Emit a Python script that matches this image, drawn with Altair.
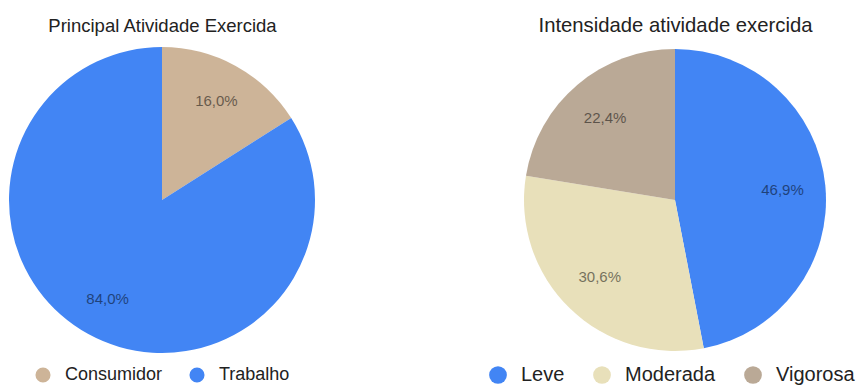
import altair as alt
import pandas as pd

# ---- data ----
left_title = "Principal Atividade Exercida"
left_categories = ["Consumidor", "Trabalho"]
left_values = [16.0, 84.0]
left_colors = ["#CDB498", "#4285F4"]

right_title = "Intensidade atividade exercida"
right_categories = ["Leve", "Moderada", "Vigorosa"]
right_values = [46.9, 30.6, 22.4]
right_colors = ["#4285F4", "#E8E0BA", "#BAA996"]


def fmt(v):
    return f"{v:.1f}%".replace(".", ",")


left_df = pd.DataFrame({
    "cat": left_categories,
    "value": left_values,
    "idx": list(range(len(left_categories))),
    "label": [fmt(v) for v in left_values],
})
right_df = pd.DataFrame({
    "cat": right_categories,
    "value": right_values,
    "idx": list(range(len(right_categories))),
    "label": [fmt(v) for v in right_values],
})

FONT = "Liberation Sans"

# layout (chart coordinates)
LCX, LCY, LR = 154, 192, 153
RCX, RCY, RR = 667, 192, 151


def pie(df, cats, colors, cx, cy, r, legend):
    arc = alt.Chart(df).mark_arc(outerRadius=r, stroke=None).encode(
        theta=alt.Theta("value:Q", stack=True),
        order=alt.Order("idx:Q"),
        color=alt.Color("cat:N", sort=cats,
                        scale=alt.Scale(domain=cats, range=colors),
                        legend=legend),
        x=alt.value(cx),
        y=alt.value(cy),
    )
    return arc


def labels(df, cx, cy, r):
    return alt.Chart(df).mark_text(
        radius=r, font=FONT, fontSize=15, color="#000", opacity=0.5
    ).encode(
        theta=alt.Theta("value:Q", stack=True),
        order=alt.Order("idx:Q"),
        text="label:N",
        x=alt.value(cx),
        y=alt.value(cy),
    )


left_legend = alt.Legend(
    title=None, orient="none", direction="horizontal",
    legendX=26, legendY=358, symbolType="circle", symbolSize=227,
    symbolStrokeWidth=0, labelFont=FONT, labelFontSize=18, labelColor="#222",
    labelOffset=13, columnPadding=25, padding=0,
)
right_legend = alt.Legend(
    title=None, orient="none", direction="horizontal",
    legendX=480, legendY=357, symbolType="circle", symbolSize=314,
    symbolStrokeWidth=0, labelFont=FONT, labelFontSize=20, labelColor="#222",
    labelOffset=13, columnPadding=27, padding=0,
)

left_pie = pie(left_df, left_categories, left_colors, LCX, LCY, LR, left_legend)
right_pie = pie(right_df, right_categories, right_colors, RCX, RCY, RR, right_legend)

left_lab = labels(left_df, LCX, LCY, 113)
right_lab = labels(right_df, RCX, RCY, 108)

left_t = alt.Chart(pd.DataFrame({"t": [left_title]})).mark_text(
    font=FONT, fontSize=18.5, color="#222", baseline="alphabetic", align="center"
).encode(text="t:N", x=alt.value(154.5), y=alt.value(24))
right_t = alt.Chart(pd.DataFrame({"t": [right_title]})).mark_text(
    font=FONT, fontSize=20.3, color="#222", baseline="alphabetic", align="center"
).encode(text="t:N", x=alt.value(667.5), y=alt.value(24))

chart = alt.layer(
    left_pie, left_lab, right_pie, right_lab, left_t, right_t
).resolve_scale(
    color="independent", theta="independent"
).properties(
    width=848, height=377, padding=0,
    autosize=alt.AutoSizeParams(type="none"),
).configure_view(stroke=None)

chart.save("out.html", embed_options={"renderer": "svg", "actions": False})
